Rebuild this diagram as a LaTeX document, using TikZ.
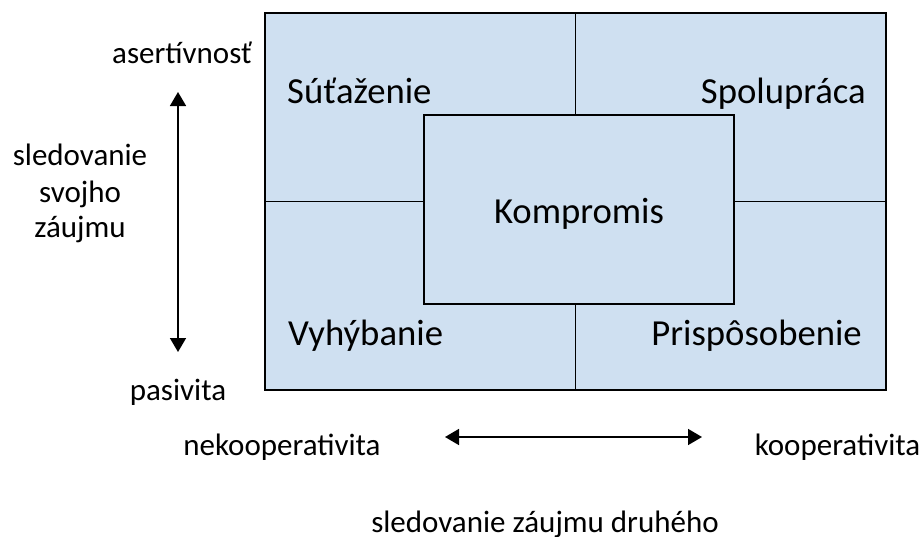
\documentclass[tikz,border=0pt]{standalone}
\usepackage{fontspec}
\setmainfont{Carlito}
\usetikzlibrary{arrows.meta}

\definecolor{paneblue}{HTML}{CFE0F1}

\tikzset{
  frame/.style={draw=black, line width=1.6pt, fill=paneblue, inner sep=0pt},
  divider/.style={draw=black, line width=1.6pt},
  boxlabel/.style={anchor=base, inner sep=0pt, font=\fontsize{36.7}{44}\selectfont},
  sidelabel/.style={anchor=base, inner sep=0pt, font=\fontsize{31}{37}\selectfont},
  axis/.style={line width=1.6pt, {Triangle[width=16pt,length=14pt]}-{Triangle[width=16pt,length=14pt]}}
}

\begin{document}
\begin{tikzpicture}[x=1pt, y=-1pt]
  \useasboundingbox (0,0) rectangle (924,536);

  % outer field with its quadrant dividers
  \node[frame, minimum width=621pt, minimum height=377pt] (field) at (575.5,201.5) {};
  \draw[divider] (field.north) -- (field.south);
  \draw[divider] (field.west) -- (field.east);

  % central compromise box, drawn over the dividers
  \node[frame, minimum width=310pt, minimum height=189pt] (kbox) at (579,209.5) {};

  % quadrant labels
  \node[boxlabel, anchor=base west] (sut) at (287,103) {Súťaženie};
  \node[boxlabel, anchor=base east] (spo) at (866,103) {Spolupráca};
  \node[boxlabel] (kom) at (579,223) {Kompromis};
  \node[boxlabel, anchor=base west] (vyh) at (288,345) {Vyhýbanie};
  \node[boxlabel, anchor=base east] (pri) at (862,345) {Prispôsobenie};

  % vertical axis
  \node[sidelabel] (asert) at (182,63) {asertívnosť};
  \node[sidelabel] (pasiv) at (178,400) {pasivita};
  \node[sidelabel] (sled1) at (80,165) {sledovanie};
  \node[sidelabel] (sled2) at (80,202) {svojho};
  \node[sidelabel] (sled3) at (80,237) {záujmu};
  \coordinate (vtop) at (178,92);
  \coordinate (vbot) at (178,352);
  \draw[axis] (vtop) -- (vbot);

  % horizontal axis
  \node[sidelabel] (nekoop) at (282,455) {nekooperativita};
  \node[sidelabel] (koop) at (837.5,455) {kooperativita};
  \node[sidelabel] (druh) at (545,532) {sledovanie záujmu druhého};
  \coordinate (hleft) at (445,437);
  \coordinate (hright) at (702,437);
  \draw[axis] (hleft) -- (hright);
\end{tikzpicture}
\end{document}
